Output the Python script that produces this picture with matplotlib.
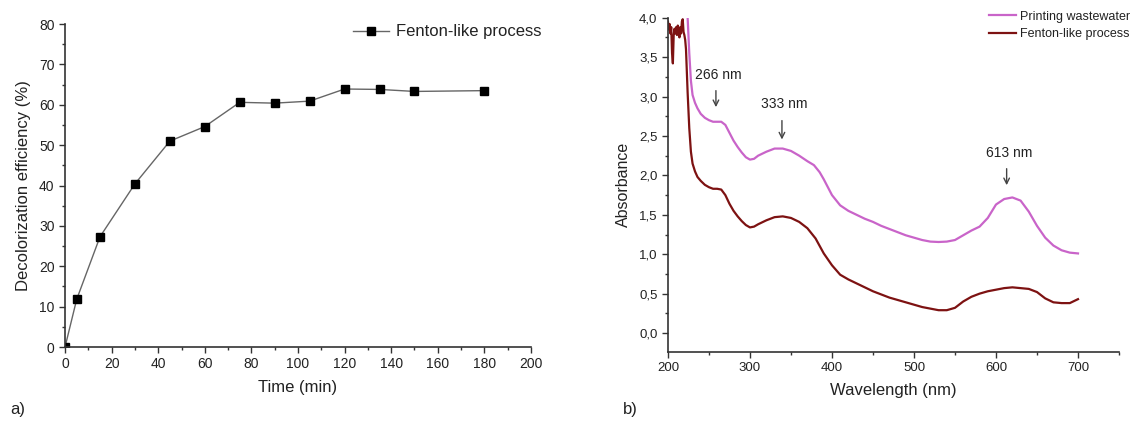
import matplotlib
matplotlib.use("Agg")
import matplotlib.pyplot as plt
from matplotlib.ticker import MultipleLocator, FuncFormatter

plt.rcParams['font.family'] = ['Liberation Sans', 'DejaVu Sans']

# ---- panel a data ----
time_min = [0, 5, 15, 30, 45, 60, 75, 90, 105, 120, 135, 150, 180]
decolor_eff = [0, 11.8, 27.3, 40.4, 51.0, 54.6, 60.6, 60.4, 60.9, 63.9, 63.8, 63.3, 63.5]

# ---- panel b data ----
wl_pw = [224, 226, 228, 230, 233, 236, 240, 245, 250, 255, 260, 265, 270, 275, 280,
         285, 290, 295, 300, 305, 310, 320, 330, 340, 350, 360, 370, 378, 385, 390,
         395, 400, 410, 420, 430, 440, 450, 460, 470, 480, 490, 500, 510, 520, 530,
         540, 550, 560, 570, 580, 590, 600, 610, 620, 630, 640, 650, 660, 670, 680,
         690, 700]
abs_pw = [4.00, 3.55, 3.20, 3.02, 2.92, 2.85, 2.78, 2.73, 2.70, 2.68, 2.68, 2.68, 2.64, 2.54, 2.44,
          2.36, 2.29, 2.23, 2.20, 2.21, 2.25, 2.30, 2.34, 2.34, 2.31, 2.25, 2.18, 2.13, 2.04, 1.95,
          1.85, 1.75, 1.62, 1.55, 1.50, 1.45, 1.41, 1.36, 1.32, 1.28, 1.24, 1.21, 1.18, 1.16, 1.155,
          1.16, 1.18, 1.24, 1.30, 1.35, 1.46, 1.63, 1.70, 1.72, 1.68, 1.54, 1.36, 1.21, 1.11, 1.05,
          1.02, 1.01]

wl_fl = [200, 201, 202, 203, 204, 205, 206, 207, 208, 209, 210, 211, 212, 213, 214,
         215, 216, 217, 218, 219, 220, 221, 222, 224, 226, 228, 230, 233, 236, 240,
         245, 250, 255, 260, 265, 270, 275, 280, 285, 290, 295, 300, 305, 310, 320,
         330, 340, 350, 360, 370, 380, 390, 400, 410, 420, 430, 440, 450, 460, 470,
         480, 490, 500, 510, 520, 530, 540, 550, 560, 570, 580, 590, 600, 610, 620,
         630, 640, 650, 660, 670, 680, 690, 700]
abs_fl = [3.95, 3.85, 3.92, 3.80, 3.88, 3.55, 3.42, 3.78, 3.86, 3.80, 3.88, 3.78, 3.90, 3.82, 3.75,
          3.88, 3.80, 3.95, 3.98, 3.82, 3.78, 3.72, 3.60, 3.05, 2.60, 2.30, 2.15, 2.05, 1.98, 1.93,
          1.88, 1.85, 1.83, 1.83, 1.82, 1.75, 1.64, 1.55, 1.48, 1.42, 1.37, 1.34, 1.35, 1.38, 1.43,
          1.47, 1.48, 1.46, 1.41, 1.33, 1.20, 1.01, 0.86, 0.74, 0.68, 0.63, 0.58, 0.53, 0.49, 0.45,
          0.42, 0.39, 0.36, 0.33, 0.31, 0.29, 0.29, 0.32, 0.40, 0.46, 0.50, 0.53, 0.55, 0.57, 0.58,
          0.57, 0.56, 0.52, 0.44, 0.39, 0.38, 0.38, 0.43]

peak_labels = ["266 nm", "333 nm", "613 nm"]
peak_arrow_x = [258.5, 339, 613]
peak_arrow_top = [3.11, 2.73, 2.12]
peak_arrow_tip = [2.83, 2.42, 1.84]
peak_text_y = [3.27, 2.90, 2.28]

fig = plt.figure(figsize=(11.35, 4.25), dpi=100)
txt = '#222222'
spine_c = '#333333'

# ---------------- panel a ----------------
ax1 = fig.add_axes([0.0573, 0.1835, 0.4105, 0.76])
ax1.plot(time_min, decolor_eff, color='#666666', lw=1.0, marker='s', ms=6,
         mfc='black', mec='black', label='Fenton-like process')
ax1.set_xlim(0, 200)
ax1.set_ylim(0, 80)
ax1.xaxis.set_major_locator(MultipleLocator(20))
ax1.xaxis.set_minor_locator(MultipleLocator(10))
ax1.yaxis.set_major_locator(MultipleLocator(10))
ax1.yaxis.set_minor_locator(MultipleLocator(5))
ax1.spines['top'].set_visible(False)
ax1.spines['right'].set_visible(False)
for s in ['left', 'bottom']:
    ax1.spines[s].set_color(spine_c)
    ax1.spines[s].set_linewidth(1.2)
ax1.tick_params(which='major', direction='out', length=4, width=1.0, colors=spine_c,
                labelsize=10, labelcolor=txt)
ax1.tick_params(which='minor', direction='out', length=2.5, width=1.0, colors=spine_c)
ax1.set_xlabel('Time (min)', fontsize=12, color=txt, labelpad=6)
ax1.set_ylabel('Decolorization efficiency (%)', fontsize=12, color=txt, labelpad=6)
leg1 = ax1.legend(loc='upper right', bbox_to_anchor=(1.055, 1.045), frameon=False,
                  fontsize=12, handlelength=2.2, handletextpad=0.4)
for t in leg1.get_texts():
    t.set_color(txt)

# ---------------- panel b ----------------
ax2 = fig.add_axes([0.5885, 0.1718, 0.3974, 0.7866])
ax2.plot(wl_pw, abs_pw, color='#c964c9', lw=1.6, label='Printing wastewater')
ax2.plot(wl_fl, abs_fl, color='#7d1212', lw=1.6, label='Fenton-like process')
ax2.set_xlim(200, 750)
ax2.set_ylim(-0.24, 4.0)
ax2.xaxis.set_major_locator(MultipleLocator(100))
ax2.xaxis.set_minor_locator(MultipleLocator(50))
ax2.yaxis.set_major_locator(MultipleLocator(0.5))
ax2.yaxis.set_minor_locator(MultipleLocator(0.25))
ax2.set_xticks([200, 300, 400, 500, 600, 700])
ax2.set_yticks([0, 0.5, 1.0, 1.5, 2.0, 2.5, 3.0, 3.5, 4.0])
ax2.yaxis.set_major_formatter(FuncFormatter(lambda v, p: f"{v:.1f}".replace('.', ',')))
ax2.spines['top'].set_visible(False)
ax2.spines['right'].set_visible(False)
for s in ['left', 'bottom']:
    ax2.spines[s].set_color(spine_c)
    ax2.spines[s].set_linewidth(1.2)
ax2.tick_params(which='major', direction='out', length=4, width=1.0, colors=spine_c,
                labelsize=9.5, labelcolor=txt)
ax2.tick_params(which='minor', direction='out', length=2.5, width=1.0, colors=spine_c)
ax2.set_xlabel('Wavelength (nm)', fontsize=12, color=txt, labelpad=6)
ax2.set_ylabel('Absorbance', fontsize=11.5, color=txt, labelpad=6)

for lab, xa, yt, ytip, ytx in zip(peak_labels, peak_arrow_x, peak_arrow_top,
                                  peak_arrow_tip, peak_text_y):
    ax2.annotate('', xy=(xa, ytip), xytext=(xa, yt),
                 arrowprops=dict(arrowstyle='->', color='#444444', lw=1.0))
    ax2.text(xa + 3, ytx, lab, ha='center', va='center', fontsize=10, color=txt)

leg2 = ax2.legend(loc='upper right', bbox_to_anchor=(1.05, 1.055), frameon=False,
                  fontsize=9, handlelength=2.2, handletextpad=0.3, labelspacing=0.45)
for t in leg2.get_texts():
    t.set_color(txt)

fig.text(0.009, 0.025, 'a)', fontsize=12, color=txt)
fig.text(0.549, 0.025, 'b)', fontsize=12, color=txt)

fig.savefig('out.png', dpi=100, facecolor='white')
